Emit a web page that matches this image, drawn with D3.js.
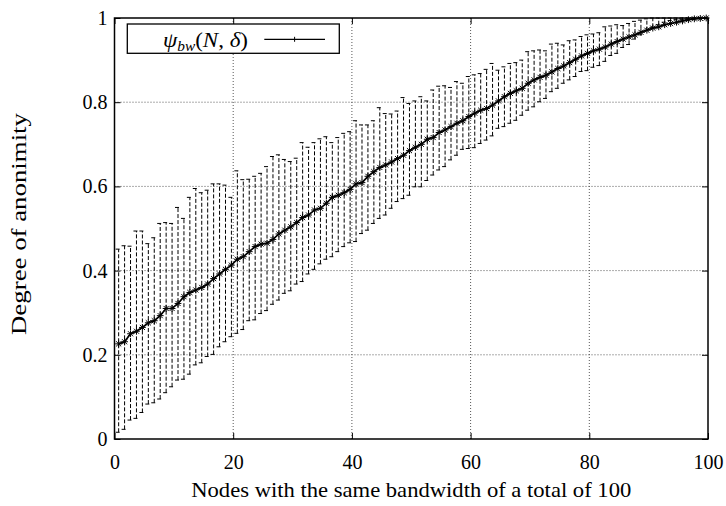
<!DOCTYPE html>
<html>
<head>
<meta charset="utf-8">
<script src="https://cdn.jsdelivr.net/npm/d3@7"></script>
<style>
  body { margin: 0; background: #fff; }
  svg text { font-family: "Liberation Serif", "Times New Roman", serif; fill: #000; }
</style>
</head>
<body>
<svg id="chart" width="726" height="506"></svg>
<script>
// mean degree of anonymity per sample, with lower / upper error bar ends
const MEAN = [
  0.226, 0.231, 0.250, 0.256, 0.265, 0.276, 0.281, 0.293, 0.310, 0.310,
  0.322, 0.338, 0.348, 0.354, 0.360, 0.368, 0.381, 0.392, 0.403, 0.413,
  0.427, 0.433, 0.445, 0.457, 0.463, 0.465, 0.474, 0.487, 0.496, 0.504,
  0.514, 0.526, 0.532, 0.544, 0.548, 0.560, 0.574, 0.579, 0.585, 0.593,
  0.606, 0.609, 0.624, 0.635, 0.645, 0.651, 0.658, 0.666, 0.674, 0.685,
  0.693, 0.700, 0.712, 0.716, 0.728, 0.734, 0.742, 0.750, 0.756, 0.766,
  0.774, 0.781, 0.785, 0.793, 0.803, 0.813, 0.821, 0.827, 0.833, 0.845,
  0.853, 0.859, 0.864, 0.872, 0.880, 0.886, 0.894, 0.902, 0.910, 0.916,
  0.922, 0.926, 0.931, 0.938, 0.944, 0.950, 0.955, 0.960, 0.966, 0.971,
  0.976, 0.979, 0.984, 0.987, 0.990, 0.993, 0.996, 0.998, 0.999, 1.000
];
const LOWER = [
  0.016, 0.023, 0.045, 0.049, 0.063, 0.083, 0.086, 0.095, 0.110, 0.124,
  0.140, 0.142, 0.154, 0.176, 0.181, 0.196, 0.201, 0.219, 0.231, 0.243,
  0.251, 0.260, 0.281, 0.283, 0.298, 0.305, 0.320, 0.330, 0.346, 0.352,
  0.368, 0.374, 0.392, 0.403, 0.416, 0.427, 0.433, 0.445, 0.457, 0.466,
  0.469, 0.488, 0.496, 0.512, 0.524, 0.532, 0.548, 0.564, 0.571, 0.579,
  0.599, 0.599, 0.614, 0.627, 0.639, 0.647, 0.663, 0.674, 0.688, 0.690,
  0.692, 0.702, 0.710, 0.720, 0.738, 0.742, 0.750, 0.757, 0.769, 0.781,
  0.789, 0.801, 0.809, 0.825, 0.833, 0.845, 0.853, 0.861, 0.873, 0.875,
  0.883, 0.887, 0.897, 0.911, 0.916, 0.930, 0.937, 0.950, 0.960, 0.970,
  0.978, 0.984, 0.990, 0.994, 0.996, 0.997, 0.998, 0.999, 1.000, 1.000
];
const UPPER = [
  0.451, 0.459, 0.458, 0.494, 0.494, 0.464, 0.478, 0.512, 0.514, 0.512,
  0.550, 0.524, 0.574, 0.595, 0.585, 0.591, 0.606, 0.606, 0.603, 0.574,
  0.637, 0.616, 0.617, 0.624, 0.631, 0.647, 0.671, 0.675, 0.664, 0.659,
  0.667, 0.704, 0.693, 0.704, 0.713, 0.718, 0.704, 0.716, 0.726, 0.730,
  0.756, 0.746, 0.746, 0.756, 0.787, 0.773, 0.772, 0.779, 0.811, 0.797,
  0.803, 0.813, 0.803, 0.829, 0.838, 0.839, 0.835, 0.849, 0.845, 0.861,
  0.865, 0.868, 0.878, 0.892, 0.876, 0.884, 0.892, 0.894, 0.900, 0.920,
  0.922, 0.924, 0.922, 0.938, 0.940, 0.936, 0.946, 0.948, 0.956, 0.960,
  0.962, 0.965, 0.979, 0.981, 0.984, 0.982, 0.987, 0.992, 0.995, 0.998,
  1.000, 1.000, 1.000, 1.000, 1.000, 1.000, 1.000, 1.000, 1.000, 1.000
];
// sample positions along x (one per sample, slightly off the integers as drawn)
const X = MEAN.map((_, i) => i + 0.7);

const X_TICKS = [0, 20, 40, 60, 80, 100];
const Y_TICKS = [0, 0.2, 0.4, 0.6, 0.8, 1];
const Y_TICK_LABELS = ['0', '0.2', '0.4', '0.6', '0.8', '1'];

const X_TITLE = 'Nodes with the same bandwidth of a total of 100';
const Y_TITLE = 'Degree of anonimity';

const svg = d3.select('#chart');
const M = { left: 114.5, right: 708, top: 18, bottom: 439 };
const x = d3.scaleLinear().domain([0, 100]).range([M.left, M.right]);
const y = d3.scaleLinear().domain([0, 1]).range([M.bottom, M.top]);
const FS = 20;

// grid
const grid = svg.append('g').attr('stroke', '#444').attr('stroke-width', 0.9)
  .attr('stroke-dasharray', '1,2');
X_TICKS.slice(1, -1).forEach(t => {
  grid.append('line').attr('x1', x(t)).attr('x2', x(t)).attr('y1', M.top).attr('y2', M.bottom);
});
Y_TICKS.slice(1, -1).forEach(t => {
  grid.append('line').attr('x1', M.left).attr('x2', M.right).attr('y1', y(t)).attr('y2', y(t));
});

const pts = X.map((xv, i) => ({ x: xv, m: MEAN[i], lo: LOWER[i], hi: UPPER[i] }));

// error bars
const eb = svg.append('g').attr('stroke', '#000').attr('stroke-width', 1).attr('fill', 'none');
eb.selectAll('line.bar').data(pts).join('line').attr('class', 'bar')
  .attr('x1', d => x(d.x)).attr('x2', d => x(d.x))
  .attr('y1', d => y(d.lo)).attr('y2', d => y(d.hi))
  .attr('stroke-dasharray', '4,2');
eb.selectAll('line.capt').data(pts).join('line').attr('class', 'capt')
  .attr('x1', d => x(d.x) - 3).attr('x2', d => x(d.x) + 1)
  .attr('y1', d => y(d.hi)).attr('y2', d => y(d.hi));
eb.selectAll('line.capb').data(pts).join('line').attr('class', 'capb')
  .attr('x1', d => x(d.x) - 3).attr('x2', d => x(d.x) + 1)
  .attr('y1', d => y(d.lo)).attr('y2', d => y(d.lo));

// mean line + star markers
svg.append('path').datum(pts)
  .attr('fill', 'none').attr('stroke', '#000').attr('stroke-width', 1.7)
  .attr('d', d3.line().x(d => x(d.x)).y(d => y(d.m)));
const r = 3.4;
const star = `M${-r},0H${r}M0,${-r}V${r}M${-r*0.75},${-r*0.75}L${r*0.75},${r*0.75}M${-r*0.75},${r*0.75}L${r*0.75},${-r*0.75}`;
svg.append('g').selectAll('path').data(pts).join('path')
  .attr('transform', d => `translate(${x(d.x)},${y(d.m)})`)
  .attr('d', star).attr('fill', 'none').attr('stroke', '#000').attr('stroke-width', 1);

// axes: inward ticks on all sides
svg.append('g').attr('transform', `translate(0,${M.bottom})`)
  .call(d3.axisBottom(x).tickValues(X_TICKS).tickSize(-6).tickPadding(16).tickFormat(d3.format('d')));
svg.append('g').attr('transform', `translate(${M.left},0)`)
  .call(d3.axisLeft(y).tickValues(Y_TICKS).tickSize(-6).tickPadding(7)
    .tickFormat((d, i) => Y_TICK_LABELS[i]));
svg.append('g').attr('transform', `translate(0,${M.top})`)
  .call(d3.axisTop(x).tickValues(X_TICKS).tickSize(-6).tickFormat(''));
svg.append('g').attr('transform', `translate(${M.right},0)`)
  .call(d3.axisRight(y).tickValues(Y_TICKS).tickSize(-6).tickFormat(''));
svg.selectAll('.domain').remove();
svg.selectAll('.tick line').attr('stroke', '#000').attr('stroke-width', 1);
svg.selectAll('.tick text').attr('font-size', FS).attr('font-family', null);

// frame
svg.append('rect').attr('x', M.left).attr('y', M.top)
  .attr('width', M.right - M.left).attr('height', M.bottom - M.top)
  .attr('fill', 'none').attr('stroke', '#000').attr('stroke-width', 1.5);

// titles
svg.append('text').attr('x', (M.left + M.right) / 2).attr('y', 497)
  .attr('text-anchor', 'middle').attr('font-size', 21)
  .attr('textLength', 440).attr('lengthAdjust', 'spacingAndGlyphs').text(X_TITLE);
svg.append('text').attr('transform', `translate(26,224) rotate(-90)`)
  .attr('text-anchor', 'middle').attr('font-size', 21)
  .attr('textLength', 222).attr('lengthAdjust', 'spacingAndGlyphs').text(Y_TITLE);

// legend
const lg = svg.append('g');
lg.append('rect').attr('x', 127.3).attr('y', 24).attr('width', 212).attr('height', 29.3)
  .attr('fill', '#fff').attr('stroke', '#000').attr('stroke-width', 1.3);
const lt = lg.append('text').attr('x', 163).attr('y', 46.5).attr('font-size', 21)
  .attr('textLength', 85).attr('lengthAdjust', 'spacingAndGlyphs');
lt.append('tspan').attr('font-style', 'italic').text('ψ');
lt.append('tspan').attr('font-style', 'italic').attr('font-size', 14).attr('dy', 4).text('bw');
lt.append('tspan').attr('dy', -4).text('(');
lt.append('tspan').attr('font-style', 'italic').text('N');
lt.append('tspan').text(', ');
lt.append('tspan').attr('font-style', 'italic').text('δ');
lt.append('tspan').text(')');
lg.append('line').attr('x1', 264.3).attr('x2', 325).attr('y1', 39.3).attr('y2', 39.3)
  .attr('stroke', '#000').attr('stroke-width', 1.2);
lg.append('line').attr('x1', 294.6).attr('x2', 294.6).attr('y1', 36.8).attr('y2', 41.8)
  .attr('stroke', '#000').attr('stroke-width', 1);
</script>
</body>
</html>
